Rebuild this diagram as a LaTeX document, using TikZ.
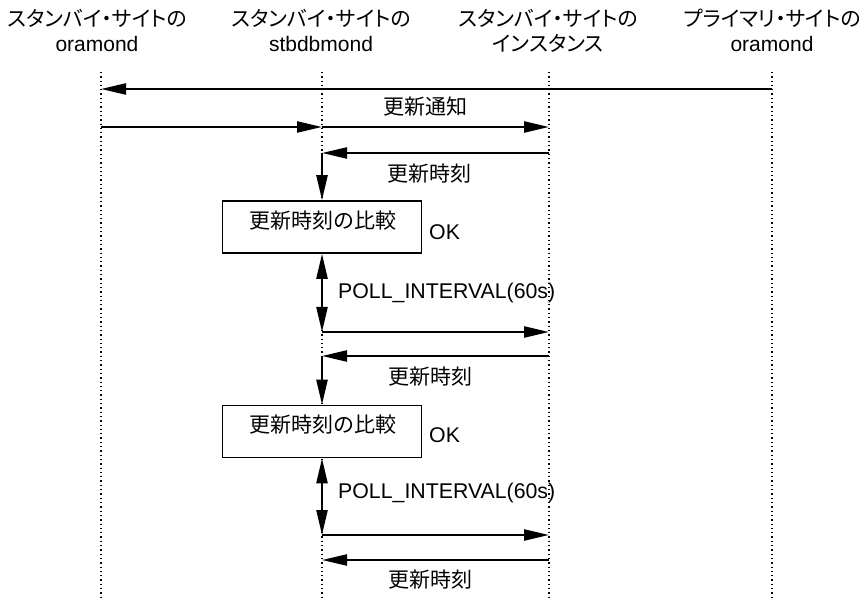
\documentclass[tikz,border=0pt]{standalone}
\usepackage{fontspec}
\setmainfont{Liberation Sans}
\newfontfamily\jp{Noto Sans CJK JP}
\newfontfamily\jpp[RawFeature=+palt]{Noto Sans CJK JP}
\usetikzlibrary{arrows.meta}
\begin{document}
\begin{tikzpicture}[x=1pt,y=-1pt,
 tip/.tip={Triangle[length=25pt,width=11pt]},
 msg/.style={line width=2.3pt,-tip},
 dbl/.style={line width=2.3pt,tip-tip},
 life/.style={line width=1.3pt,dash pattern=on 1.3pt off 3pt},
 hdr/.style={align=center,font=\fontsize{21}{25}\selectfont,inner sep=0pt},
 lbl/.style={font=\jp\fontsize{21}{25}\selectfont,inner sep=0pt},
 txt/.style={font=\fontsize{21.3}{25}\selectfont,inner sep=0pt},
 cmpbox/.style={draw,line width=1.6pt,fill=white,minimum width=199pt,minimum height=52pt,inner sep=0pt}
]
\useasboundingbox (0,0) rectangle (862,601);
% lifelines
\coordinate (At) at (101,72); \coordinate (Ab) at (101,601);
\coordinate (Bt) at (322,72); \coordinate (Bb) at (322,601);
\coordinate (Ct) at (549,72); \coordinate (Cb) at (549,601);
\coordinate (Dt) at (772,72); \coordinate (Db) at (772,601);
\draw[life] (At) -- (Ab);
\draw[life] (Bt) -- (Bb);
\draw[life] (Ct) -- (Cb);
\draw[life] (Dt) -- (Db);
% headers
\node[hdr] (hA) at (97,30.5) {{\jpp スタンバイ・サイトの}\\oramond};
\node[hdr] (hB) at (321,30.5) {{\jpp スタンバイ・サイトの}\\stbdbmond};
\node[hdr] (hC) at (548,30.5) {{\jpp スタンバイ・サイトの}\\{\jpp インスタンス}};
\node[hdr] (hD) at (772,30.5) {{\jpp プライマリ・サイトの}\\oramond};
% message points
\coordinate (D1) at (772,89); \coordinate (A1) at (101,89);
\coordinate (A2) at (101,127); \coordinate (B2) at (322,127); \coordinate (C2) at (549,127);
\coordinate (C3) at (549,153); \coordinate (B3) at (322,153);
\coordinate (B4) at (322,332); \coordinate (C4) at (549,332);
\coordinate (C5) at (549,356); \coordinate (B5) at (322,356);
\coordinate (B6) at (322,535); \coordinate (C6) at (549,535);
\coordinate (C7) at (549,560); \coordinate (B7) at (322,560);
% boxes
\node[cmpbox] (cmp1) at (322,227) {};
\node[lbl] (cmp1t) at (323,221) {更新時刻の比較};
\node[cmpbox] (cmp2) at (322,431.5) {};
\node[lbl] (cmp2t) at (323,425) {更新時刻の比較};
% arrows
\draw[msg] (D1) -- (A1);
\draw[msg] (A2) -- (B2);
\draw[msg] (B2) -- (C2);
\draw[msg] (C3) -- (B3);
\draw[msg] (B3) -- (cmp1.north);
\draw[dbl] (cmp1.south) -- (B4);
\draw[msg] (B4) -- (C4);
\draw[msg] (C5) -- (B5);
\draw[msg] (B5) -- (cmp2.north);
\draw[dbl] (cmp2.south) -- (B6);
\draw[msg] (B6) -- (C6);
\draw[msg] (C7) -- (B7);
% labels
\node[lbl] (l1) at (425,107) {更新通知};
\node[lbl] (l2) at (429,174) {更新時刻};
\node[txt,anchor=west] (ok1) at (429,232) {OK};
\node[txt,anchor=west] (p1) at (338,293) {POLL\_INTERVAL(60s)};
\node[lbl] (l3) at (430,377) {更新時刻};
\node[txt,anchor=west] (ok2) at (429,435) {OK};
\node[txt,anchor=west] (p2) at (338,493) {POLL\_INTERVAL(60s)};
\node[lbl] (l4) at (430,580) {更新時刻};
\end{tikzpicture}
\end{document}
